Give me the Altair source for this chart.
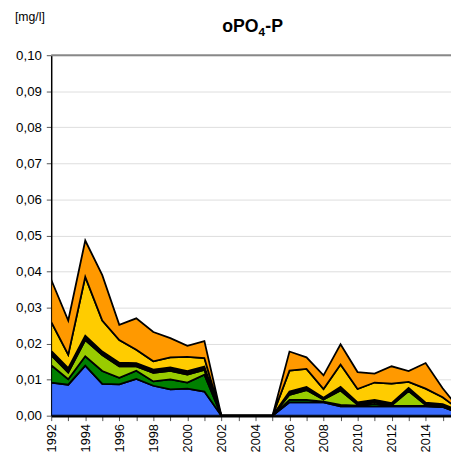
import altair as alt
import pandas as pd

years = list(range(1992, 2017))
series_names = ["s1", "s2", "s3", "s4", "s5", "s6"]
series_colors = ["#3a6cff", "#008000", "#99cc00", "#000000", "#ffcc00", "#ff9900"]

s1 = [0.0092, 0.0086, 0.0139, 0.0088, 0.0087, 0.0102, 0.0083, 0.0073, 0.0075, 0.0067,
      0, 0, 0, 0,
      0.0037, 0.0037, 0.0037, 0.0026, 0.0026, 0.0026, 0.0026, 0.0026, 0.0026, 0.0024, 0.0007]
s2 = [0.0048, 0.0015, 0.0026, 0.0036, 0.0018, 0.0023, 0.0012, 0.0028, 0.0017, 0.0047,
      0, 0, 0, 0,
      0.0007, 0.0007, 0.0002, 0.0004, 0.0002, 0.0007, 0.0001, 0.0001, 0.0001, 0.0001, 0.0001]
s3 = [0.0028, 0.0019, 0.0045, 0.0044, 0.0032, 0.0012, 0.0024, 0.0023, 0.0022, 0.0013,
      0, 0, 0, 0,
      0.0014, 0.0027, 0.0006, 0.0040, 0.0003, 0.0005, 0.0002, 0.0041, 0.0003, 0.0002, 0.0001]
s4 = [0.0012, 0.0012, 0.0012, 0.0010, 0.0010, 0.0009, 0.0009, 0.0010, 0.0010, 0.0009,
      0, 0, 0, 0,
      0.0009, 0.0009, 0.0005, 0.0010, 0.0006, 0.0006, 0.0006, 0.0009, 0.0006, 0.0005, 0.0005]
s5 = [0.0080, 0.0037, 0.0163, 0.0086, 0.0063, 0.0037, 0.0023, 0.0028, 0.0039, 0.0024,
      0, 0, 0, 0,
      0.0058, 0.0050, 0.0024, 0.0062, 0.0037, 0.0048, 0.0054, 0.0017, 0.0039, 0.0019, 0.0002]
s6 = [0.0117, 0.0095, 0.0101, 0.0126, 0.0042, 0.0087, 0.0081, 0.0053, 0.0031, 0.0047,
      0, 0, 0, 0,
      0.0053, 0.0032, 0.0038, 0.0056, 0.0047, 0.0025, 0.0048, 0.0030, 0.0071, 0.0025, 0.0002]

y_ticks = [round(i * 0.01, 2) for i in range(11)]
x_ticks = list(range(1992, 2016))

rows = []
for idx, (name, vals) in enumerate(zip(series_names, [s1, s2, s3, s4, s5, s6])):
    for yr, v in zip(years, vals):
        rows.append({"year": yr, "series": name, "idx": idx, "value": v})
df = pd.DataFrame(rows)

FONT = "Liberation Sans"

areas = alt.Chart(df).mark_area(
    stroke="black", strokeWidth=1.8, strokeJoin="miter", clip=True, opacity=1
).encode(
    x=alt.X("year:Q",
            scale=alt.Scale(domain=[1992, 2015.49], nice=False, zero=False),
            axis=alt.Axis(values=x_ticks, title=None, grid=False,
                          labelExpr="datum.value % 2 == 0 ? '' + datum.value : ''",
                          labelAngle=270, labelFont=FONT, labelFontSize=13,
                          labelColor="black", labelPadding=3,
                          tickSize=5, tickColor="#555", domainColor="black",
                          domainWidth=2.5, labelOverlap=False)),
    y=alt.Y("value:Q", stack="zero",
            scale=alt.Scale(domain=[0, 0.1], nice=False),
            axis=alt.Axis(values=y_ticks, title=None,
                          labelExpr="replace(format(datum.value, '.2f'), '.', ',')",
                          labelFont=FONT, labelFontSize=13.5, labelColor="black",
                          labelPadding=5, tickSize=5, tickColor="#555",
                          domainColor="black", domainWidth=1.5, labelOverlap=False,
                          gridColor="#dddddd", gridWidth=1)),
    color=alt.Color("series:N", legend=None,
                    scale=alt.Scale(domain=series_names, range=series_colors)),
    order=alt.Order("idx:Q", sort="ascending"),
)

top_rule = alt.Chart(pd.DataFrame({"v": [0.1]})).mark_rule(
    color="#888888", strokeWidth=2
).encode(y=alt.value(0))

title_main = alt.Chart(pd.DataFrame({"t": ["oPO"]})).mark_text(
    font=FONT, fontSize=18, fontWeight="bold", align="right", baseline="alphabetic",
    color="black"
).encode(text="t:N", x=alt.value(211), y=alt.value(-24))

title_sub = alt.Chart(pd.DataFrame({"t": ["4"]})).mark_text(
    font=FONT, fontSize=12, fontWeight="bold", align="left", baseline="alphabetic",
    color="black"
).encode(text="t:N", x=alt.value(211), y=alt.value(-20))

title_end = alt.Chart(pd.DataFrame({"t": ["-P"]})).mark_text(
    font=FONT, fontSize=18, fontWeight="bold", align="left", baseline="alphabetic",
    color="black"
).encode(text="t:N", x=alt.value(218), y=alt.value(-24))

unit = alt.Chart(pd.DataFrame({"t": ["[mg/l]"]})).mark_text(
    font=FONT, fontSize=12.5, align="left", baseline="alphabetic", color="black"
).encode(text="t:N", x=alt.value(-37), y=alt.value(-34.5))

chart = alt.layer(areas, top_rule, title_main, title_sub, title_end, unit).properties(
    width=407, height=367,
    autosize=alt.AutoSizeParams(type="none"),
    padding={"left": 44, "top": 44, "right": 0, "bottom": 38},
    background="white",
).configure_view(stroke=None)

chart.save("out.html", embed_options={"renderer": "svg", "actions": False})
